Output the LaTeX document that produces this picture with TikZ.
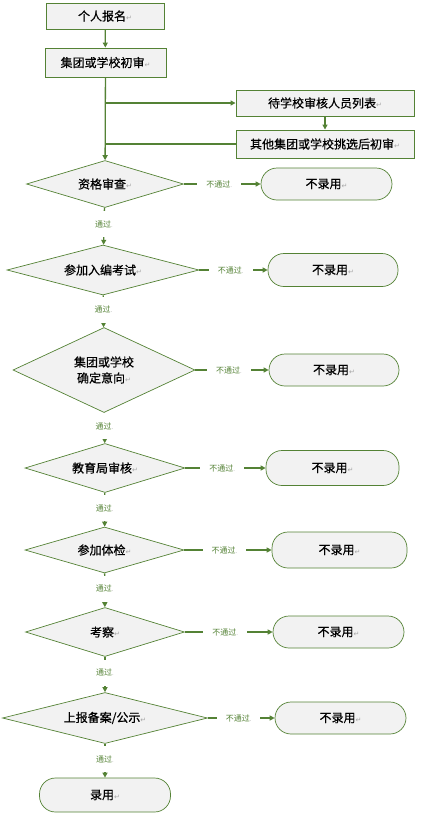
\documentclass[tikz,border=0pt]{standalone}
\usepackage{fontspec}
\setmainfont{Noto Sans CJK SC}
\newfontfamily\heavyfont{Noto Sans CJK SC}[FakeBold=0.6]
\newfontfamily\markfont{DejaVu Sans}
\usetikzlibrary{positioning, shapes.geometric, arrows.meta}
\definecolor{leaf}{HTML}{548235}
\definecolor{paper}{HTML}{F2F2F2}
\newcommand{\pmark}{{\markfont\fontsize{7}{8}\selectfont\color{black!35}↵}}
\newcommand{\lmark}{{\fontsize{6}{7}\selectfont\color{black!40}.}}
\tikzset{
  stepbox/.style={rectangle, draw=leaf, line width=0.9pt, fill=paper, font=\heavyfont\fontsize{12}{14}\selectfont, inner sep=0pt},
  check/.style={diamond, draw=leaf, line width=0.7pt, fill=paper, aspect=2.5, inner sep=0pt, font=\heavyfont\fontsize{12}{14}\selectfont, align=center},
  reject/.style={rectangle, rounded corners=16pt, draw=leaf, line width=0.7pt, fill=paper, font=\heavyfont\fontsize{12}{14}\selectfont, inner sep=0pt},
  flow/.style={draw=leaf, line width=1.3pt, -{Triangle[length=5pt, width=5pt]}},
  plainflow/.style={draw=leaf, line width=1.3pt},
  fail/.style={fill=white, text=leaf, font=\fontsize{8}{9}\selectfont, inner ysep=1pt, inner xsep=9pt, pos=0.46},
  pass/.style={fill=white, text=leaf, font=\fontsize{8}{9}\selectfont, inner xsep=1pt, minimum height=26pt, pos=0.45}
}
\begin{document}
\begin{tikzpicture}[x=1pt, y=-1pt]
  \useasboundingbox (0, 0) rectangle (447, 815);
  % main column
  \node[stepbox, minimum width=118pt, minimum height=26pt] (apply) at (105, 16) {个人报名\pmark};
  \node[stepbox, minimum width=121pt, minimum height=29pt] (first) at (105.5, 62.5) {集团或学校初审\pmark};
  \node[stepbox, minimum width=178pt, minimum height=26pt] (list) at (325, 103) {待学校审核人员列表\pmark};
  \node[stepbox, minimum width=178pt, minimum height=28pt] (other) at (325, 144) {其他集团或学校挑选后初审\pmark};
  \coordinate (fork) at (105, 103);
  \coordinate (join) at (105, 144);

  \node[check, minimum width=157pt, minimum height=47pt] (qual) at (105, 184) {资格审查\pmark};
  \node[check, minimum width=192pt, minimum height=50pt] (exam) at (103, 270) {参加入编考试\pmark};
  \node[check, minimum width=182pt, minimum height=85pt] (intent) at (104, 370) {集团或学校\\[2pt]确定意向\pmark};
  \node[check, minimum width=160pt, minimum height=49pt] (bureau) at (105, 468) {教育局审核\pmark};
  \node[check, minimum width=159pt, minimum height=46pt] (health) at (104.5, 550) {参加体检\pmark};
  \node[check, minimum width=159pt, minimum height=49pt] (inspect) at (105, 632) {考察\pmark};
  \node[check, minimum width=205pt, minimum height=51pt] (publish) at (105, 718) {上报备案/公示\pmark};
  \node[reject, minimum width=131pt, minimum height=34pt] (hire) at (105, 795) {录用\pmark};

  % rejections
  \node[reject, minimum width=131pt, minimum height=32pt] (no1) at (326.5, 184) {不录用\pmark};
  \node[reject, minimum width=130pt, minimum height=33pt] (no2) at (333, 270) {不录用\pmark};
  \node[reject, minimum width=130pt, minimum height=32pt] (no3) at (334, 370) {不录用\pmark};
  \node[reject, minimum width=133pt, minimum height=35pt] (no4) at (332.5, 468) {不录用\pmark};
  \node[reject, minimum width=135pt, minimum height=36pt] (no5) at (339.5, 550) {不录用\pmark};
  \node[reject, minimum width=131pt, minimum height=32pt] (no6) at (338.5, 632) {不录用\pmark};
  \node[reject, minimum width=131pt, minimum height=32pt] (no7) at (340.5, 718) {不录用\pmark};

  \path (apply) edge[flow] (first);
  \path (first) edge[flow] (qual);
  \path (fork) edge[flow] (list);
  \path (list) edge[flow] (other);
  \path (other) edge[plainflow] (join);

  \path (qual) edge[flow] node[pass] {通过\lmark} (exam);
  \path (exam) edge[flow] node[pass] {通过\lmark} (intent);
  \path (intent) edge[flow] node[pass] {通过\lmark} (bureau);
  \path (bureau) edge[flow] node[pass] {通过\lmark} (health);
  \path (health) edge[flow] node[pass] {通过\lmark} (inspect);
  \path (inspect) edge[flow] node[pass] {通过\lmark} (publish);
  \path (publish) edge[flow] node[pass] {通过\lmark} (hire);

  \path (qual) edge[flow] node[fail] {不通过\lmark} (no1);
  \path (exam) edge[flow] node[fail] {不通过\lmark} (no2);
  \path (intent) edge[flow] node[fail] {不通过\lmark} (no3);
  \path (bureau) edge[flow] node[fail] {不通过\lmark} (no4);
  \path (health) edge[flow] node[fail] {不通过\lmark} (no5);
  \path (inspect) edge[flow] node[fail] {不通过\lmark} (no6);
  \path (publish) edge[flow] node[fail] {不通过\lmark} (no7);
\end{tikzpicture}
\end{document}
